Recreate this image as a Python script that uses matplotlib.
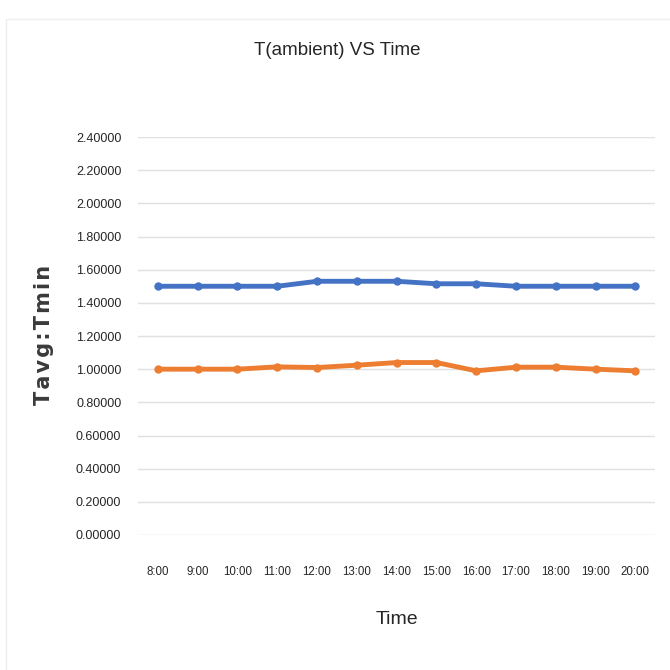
import matplotlib.pyplot as plt
from matplotlib.patches import Rectangle

times = ["8:00", "9:00", "10:00", "11:00", "12:00", "13:00", "14:00",
         "15:00", "16:00", "17:00", "18:00", "19:00", "20:00"]
blue_vals = [1.50, 1.50, 1.50, 1.50, 1.53, 1.53, 1.53, 1.515, 1.515, 1.50, 1.50, 1.50, 1.50]
orange_vals = [1.00, 1.00, 1.00, 1.014, 1.01, 1.024, 1.04, 1.04, 0.99, 1.012, 1.012, 1.00, 0.99]
yticks = [0.0, 0.2, 0.4, 0.6, 0.8, 1.0, 1.2, 1.4, 1.6, 1.8, 2.0, 2.2, 2.4]

narrow = ["Liberation Sans", "DejaVu Sans"]

fig = plt.figure(figsize=(6.7, 6.7), dpi=100)
ax = fig.add_axes([0.206, 0.2015, 0.772, 0.594])

x = list(range(len(times)))
ax.plot(x, blue_vals, color="#4472C4", lw=3.5, marker="o", ms=5, solid_capstyle="round")
ax.plot(x, orange_vals, color="#ED7D31", lw=3.5, marker="o", ms=5, solid_capstyle="round")

ax.set_xlim(-0.5, len(times) - 0.5)
ax.set_ylim(0, 2.4)
ax.set_yticks(yticks)
ax.set_yticklabels(["%.5f" % v for v in yticks], family=narrow, fontsize=9, color="#262626")
ax.set_xticks(x)
ax.set_xticklabels(times, family=narrow, fontsize=8.3, color="#262626")
ax.tick_params(axis="y", length=0, pad=12)
ax.tick_params(axis="x", length=0, pad=22)
ax.grid(axis="y", color="#e0e0e0", lw=1)
ax.set_axisbelow(True)
for s in ax.spines.values():
    s.set_visible(False)

fig.text(0.503, 0.925, "T(ambient) VS Time", ha="center", va="center", family=narrow, fontsize=13.5, color="#262626")
fig.text(0.593, 0.075, "Time", ha="center", va="center", family=narrow, fontsize=14, color="#262626")
fig.text(0.066, 0.5, "\u200a".join("Tavg:Tmin"), ha="center", va="center", rotation=90,
         fontsize=15, fontweight="bold", color="#3a3a3a")

fig.patches.append(Rectangle((0.009, -0.01), 1.0, 0.982, transform=fig.transFigure,
                             fill=False, ec="#eeeeee", lw=1))

fig.savefig("out.png", dpi=100)
